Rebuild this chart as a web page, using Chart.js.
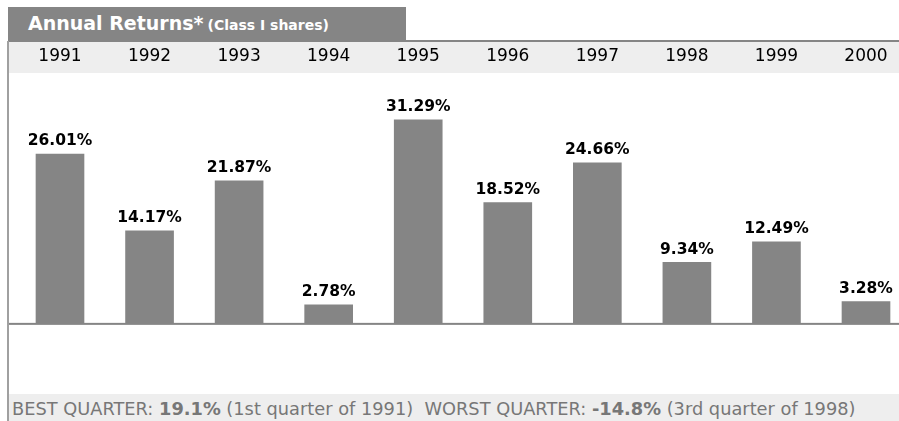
<!DOCTYPE html>
<html>
<head>
<meta charset="utf-8">
<script src="https://cdn.jsdelivr.net/npm/chart.js@4"></script>
<style>
  body { margin: 0; background: #fff; width: 899px; height: 421px; overflow: hidden; position: relative; font-family: "DejaVu Sans", sans-serif; }
  #tab { position: absolute; left: 8px; top: 7px; width: 398px; height: 34px; background: #858585; color: #fff; font-weight: bold; }
  #tab .big { position: absolute; left: 20px; top: 5px; font-size: 19px; }
  #tab .small { font-size: 14px; padding-left: 4px; }
  #topline { position: absolute; left: 8px; top: 40px; width: 891px; height: 2px; background: #858585; }
  #leftline { position: absolute; left: 7px; top: 41px; width: 2px; height: 380px; background: #a0a0a0; }
  #bottom { position: absolute; left: 9px; top: 394px; width: 890px; height: 27px; background: #eeeeee; color: #777; font-size: 17.8px; line-height: 29px; white-space: nowrap; }
  #bottom span { padding-left: 3px; }
  #wrap { position: absolute; left: 0; top: 41px; width: 899px; height: 380px; }
</style>
</head>
<body>
<div id="wrap"><canvas id="mycanvas"></canvas></div>
<div id="tab"><span class="big">Annual Returns*<span class="small">(Class I shares)</span></span></div>
<div id="topline"></div>
<div id="leftline"></div>
<div id="bottom"><span>BEST QUARTER: <b>19.1%</b> (1st quarter of 1991) &nbsp;WORST QUARTER: <b>-14.8%</b> (3rd quarter of 1998)</span></div>
<script>
var years = ['1991', '1992', '1993', '1994', '1995', '1996', '1997', '1998', '1999', '2000'];
var returns = [26.01, 14.17, 21.87, 2.78, 31.29, 18.52, 24.66, 9.34, 12.49, 3.28];
var labels = ['26.01%', '14.17%', '21.87%', '2.78%', '31.29%', '18.52%', '24.66%', '9.34%', '12.49%', '3.28%'];

// band behind the years, zero line and the value labels
var decor = {
  id: 'decor',
  beforeDraw: function(chart) {
    var ctx = chart.ctx;
    var xs = chart.scales.x;
    ctx.save();
    ctx.fillStyle = '#eeeeee';
    ctx.fillRect(9, xs.top + 1, chart.width - 9, xs.bottom - xs.top - 1);
    ctx.restore();
  },
  afterDatasetsDraw: function(chart) {
    var ctx = chart.ctx;
    var y0 = chart.scales.y.getPixelForValue(0);
    ctx.save();
    ctx.fillStyle = '#858585';
    ctx.fillRect(8, y0, chart.width - 8, 2);
    ctx.fillStyle = '#000';
    ctx.font = 'bold 15.5px "DejaVu Sans"';
    ctx.textAlign = 'center';
    ctx.textBaseline = 'bottom';
    chart.getDatasetMeta(0).data.forEach(function(bar, i) {
      ctx.fillText(labels[i], bar.x, bar.y - 5);
    });
    ctx.restore();
  }
};

var ctx = document.getElementById('mycanvas');
var barGraph = new Chart(ctx, {
  type: 'bar',
  data: {
    labels: years,
    datasets: [{
      data: returns,
      backgroundColor: '#858585',
      barThickness: 48,
      clip: false
    }]
  },
  options: {
    responsive: true,
    maintainAspectRatio: false,
    animation: false,
    layout: { padding: { left: 60, right: 33, top: 0, bottom: 27 } },
    plugins: { legend: { display: false }, tooltip: { enabled: false } },
    scales: {
      x: {
        position: 'top',
        offset: false,
        grid: { display: false, drawTicks: false },
        border: { display: false },
        ticks: { color: '#000', font: { family: 'DejaVu Sans', size: 17 }, padding: 6, autoSkip: false, maxRotation: 0 },
        afterFit: function(scale) { scale.height = 32; }
      },
      y: {
        display: false,
        min: -10.96,
        max: 38.5
      }
    }
  },
  plugins: [decor]
});
</script>
</body>
</html>
